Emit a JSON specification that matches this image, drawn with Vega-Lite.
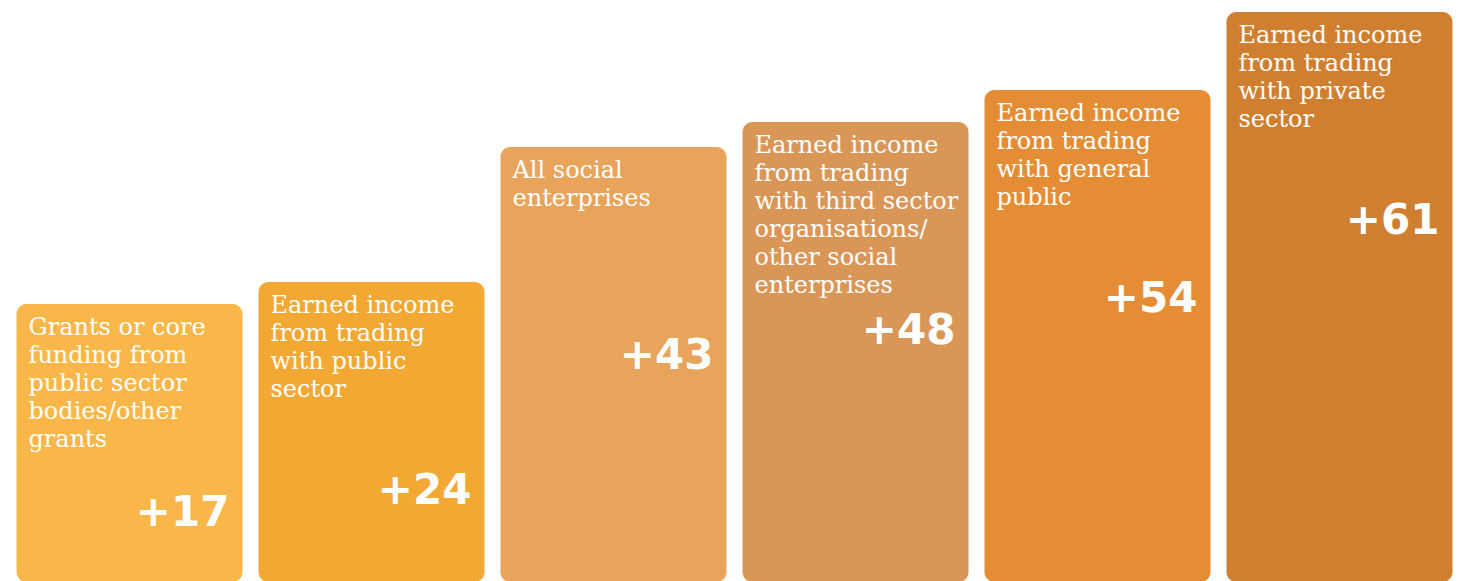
{
  "$schema": "https://vega.github.io/schema/vega-lite/v6.json",
  "width": 1466,
  "height": 581,
  "autosize": {"type": "none"},
  "padding": 0,
  "background": "white",
  "config": {"view": {"stroke": null}},
  "data": {
    "values": [
      {"cat": "Grants or core funding from public sector bodies/other grants", "label": "Grants or core\nfunding from\npublic sector\nbodies/other\ngrants", "value": 17, "text": "+17", "color": "#FAB749"},
      {"cat": "Earned income from trading with public sector", "label": "Earned income\nfrom trading\nwith public\nsector", "value": 24, "text": "+24", "color": "#F3A833"},
      {"cat": "All social enterprises", "label": "All social\nenterprises", "value": 43, "text": "+43", "color": "#E9A45B"},
      {"cat": "Earned income from trading with third sector organisations/other social enterprises", "label": "Earned income\nfrom trading\nwith third sector\norganisations/\nother social\nenterprises", "value": 48, "text": "+48", "color": "#DA9657"},
      {"cat": "Earned income from trading with general public", "label": "Earned income\nfrom trading\nwith general\npublic", "value": 54, "text": "+54", "color": "#E58D34"},
      {"cat": "Earned income from trading with private sector", "label": "Earned income\nfrom trading\nwith private\nsector", "value": 61, "text": "+61", "color": "#D07F31"}
    ]
  },
  "encoding": {
    "x": {
      "field": "cat", "type": "nominal", "sort": null, "axis": null,
      "scale": {"paddingInner": 0.0661, "paddingOuter": 0.062, "align": 0.55}
    },
    "y": {
      "field": "value", "type": "quantitative", "axis": null,
      "scale": {"domain": [0, 17, 24, 43, 48, 54, 61], "range": [582, 304, 282, 147, 122, 90, 12], "zero": false, "nice": false, "clamp": false}
    }
  },
  "layer": [
    {
      "mark": {"type": "bar", "cornerRadius": 10},
      "encoding": {
        "y2": {"datum": 0},
        "color": {"field": "color", "type": "nominal", "scale": null, "legend": null}
      }
    },
    {
      "mark": {"type": "text", "align": "left", "baseline": "alphabetic", "dx": 12, "dy": 31, "font": "DejaVu Serif", "fontSize": 24, "lineHeight": 28, "lineBreak": "\n", "color": "white"},
      "encoding": {
        "x": {"field": "cat", "type": "nominal", "sort": null, "bandPosition": 0},
        "text": {"field": "label"}
      }
    },
    {
      "mark": {"type": "text", "align": "right", "baseline": "alphabetic", "dx": -13, "dy": 222, "font": "DejaVu Sans", "fontWeight": "bold", "fontSize": 42, "color": "white"},
      "encoding": {
        "x": {"field": "cat", "type": "nominal", "sort": null, "bandPosition": 1},
        "text": {"field": "text"}
      }
    }
  ]
}
